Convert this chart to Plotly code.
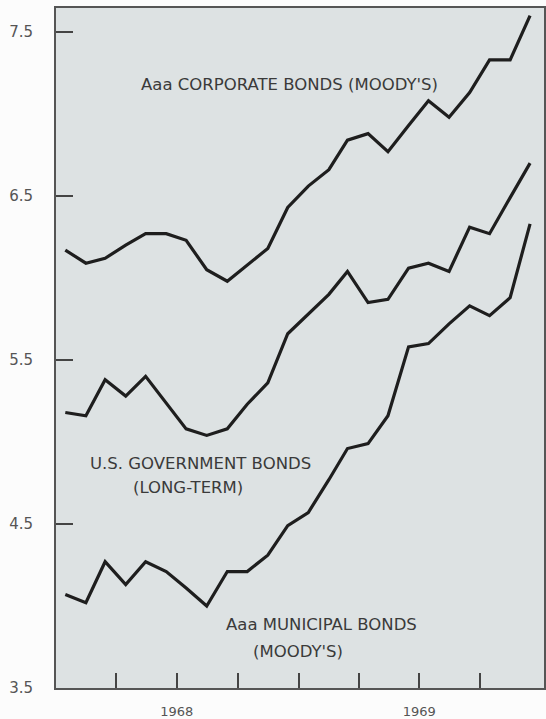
import plotly.graph_objects as go

months = ["1968-01", "1968-02", "1968-03", "1968-04", "1968-05", "1968-06",
          "1968-07", "1968-08", "1968-09", "1968-10", "1968-11", "1968-12",
          "1969-01", "1969-02", "1969-03", "1969-04", "1969-05", "1969-06",
          "1969-07", "1969-08", "1969-09", "1969-10", "1969-11", "1969-12"]

corporate = [6.17, 6.09, 6.12, 6.20, 6.27, 6.27, 6.23, 6.05, 5.98, 6.08, 6.18, 6.43,
             6.56, 6.66, 6.84, 6.88, 6.77, 6.93, 7.08, 6.98, 7.13, 7.33, 7.33, 7.60]
government = [5.18, 5.16, 5.38, 5.28, 5.40, 5.24, 5.08, 5.04, 5.08, 5.23, 5.36, 5.66,
              5.78, 5.90, 6.04, 5.85, 5.87, 6.06, 6.09, 6.04, 6.31, 6.27, 6.49, 6.70]
municipal = [4.07, 4.02, 4.27, 4.13, 4.27, 4.21, 4.11, 4.00, 4.21, 4.21, 4.31, 4.49,
             4.57, 4.77, 4.96, 4.99, 5.16, 5.58, 5.60, 5.72, 5.83, 5.77, 5.88, 6.33]

x_ticks = ["1968-04-01", "1968-07-01", "1968-10-01", "1969-01-01",
           "1969-04-01", "1969-07-01", "1969-10-01"]
x_ticktext = ["", "1968", "", "", "", "1969", ""]
y_ticks = [3.5, 4.5, 5.5, 6.5, 7.5]

dates = [m + "-15" for m in months]

fig = go.Figure()
for series in (corporate, government, municipal):
    fig.add_trace(go.Scatter(x=dates, y=series, mode="lines",
                             line=dict(color="#1e1e1e", width=3.2),
                             showlegend=False, hoverinfo="skip"))

txt_font = dict(family="DejaVu Sans", size=16.5, color="#3a3a3a")
labels = [
    ("Aaa CORPORATE BONDS (MOODY'S)", "1968-12-18", 7.18),
    ("U.S. GOVERNMENT BONDS", "1968-08-05", 4.87),
    ("(LONG-TERM)", "1968-07-18", 4.725),
    ("Aaa MUNICIPAL BONDS", "1969-02-04", 3.885),
    ("(MOODY'S)", "1968-12-30", 3.72),
]
for t, xx, yy in labels:
    fig.add_annotation(x=xx, y=yy, text=t, showarrow=False, font=txt_font,
                       xanchor="center", yanchor="middle")

fig.update_layout(
    width=546, height=719,
    margin=dict(l=56, r=2, t=8, b=31),
    paper_bgcolor="#fcfcfc",
    plot_bgcolor="#dde2e3",
)
fig.update_xaxes(
    type="date", range=["1968-01-01", "1970-01-05"],
    tickvals=x_ticks, ticktext=x_ticktext,
    ticks="inside", ticklen=15, tickwidth=2, tickcolor="#444",
    showgrid=False, zeroline=False, automargin=False,
    showline=True, linecolor="#555", linewidth=2, mirror=True,
    tickfont=dict(family="DejaVu Sans", size=13, color="#555"),
    ticklabelstandoff=10,
)
fig.update_yaxes(
    range=[3.5, 7.646],
    tickvals=y_ticks, tickformat=".1f",
    ticks="inside", ticklen=17, tickwidth=2, tickcolor="#444",
    showgrid=False, zeroline=False, automargin=False,
    showline=True, linecolor="#555", linewidth=2, mirror=True,
    tickfont=dict(family="DejaVu Sans", size=15, color="#555"),
    ticklabelstandoff=18,
)

fig.write_html("out.html", config={"displayModeBar": False},
               post_script="document.body.style.margin='0';document.body.style.overflow='hidden';")
